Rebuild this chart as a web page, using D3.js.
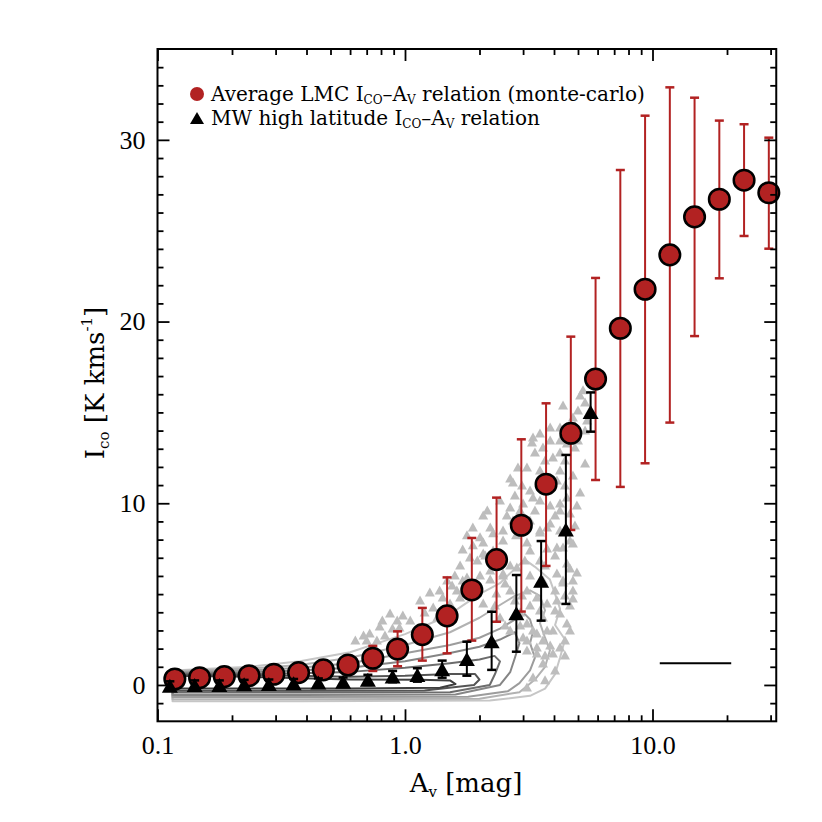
<!doctype html>
<html lang="en">
<head>
<meta charset="utf-8">
<style>
  body { margin: 0; background: #fff; }
  text { font-family: "Liberation Serif", "DejaVu Serif", serif; fill: #000; }
</style>
</head>
<body>
<script src="https://d3js.org/d3.v7.min.js"></script>
<div id="chart"></div>
<script>
// LMC average relation (monte-carlo), bin centres in Av
var lmcAv  = [0.1175, 0.1479, 0.1862, 0.2344, 0.2951, 0.3715, 0.4677, 0.5888, 0.7413, 0.9333,
              1.175, 1.479, 1.862, 2.344, 2.951, 3.715, 4.677, 5.888, 7.413, 9.333,
              11.75, 14.79, 18.62, 23.44, 29.51];
var lmcIco = [0.33, 0.40, 0.46, 0.51, 0.59, 0.68, 0.83, 1.10, 1.47, 1.98,
              2.77, 3.80, 5.23, 6.90, 8.79, 11.05, 13.85, 16.84, 19.63, 21.78,
              23.67, 25.76, 26.73, 27.78, 27.09];
var lmcLo  = [0.10, 0.15, 0.20, 0.25, 0.30, 0.35, 0.45, 0.65, 0.77, 1.03,
              1.34, 1.74, 2.44, 3.48, 4.04, 6.55, 8.53, 11.28, 10.90, 12.20,
              14.44, 19.20, 22.38, 24.71, 24.01];
var lmcHi  = [0.55, 0.65, 0.72, 0.80, 0.90, 1.00, 1.20, 1.55, 2.15, 2.95,
              4.24, 5.92, 8.09, 10.31, 13.52, 15.50, 19.17, 22.40, 28.34, 31.33,
              32.89, 32.32, 31.06, 30.86, 30.12];

// MW high latitude relation
var mwAv  = [0.1122, 0.1413, 0.1778, 0.2239, 0.2818, 0.3548, 0.4467, 0.5623, 0.7079, 0.8913,
             1.122, 1.413, 1.778, 2.239, 2.818, 3.548, 4.467, 5.623];
var mwIco = [-0.04, 0.00, 0.00, 0.04, 0.05, 0.09, 0.13, 0.18, 0.28, 0.46,
             0.55, 0.87, 1.43, 2.40, 3.94, 5.73, 8.56, 15.02];
var mwLo  = [-0.30, -0.25, -0.25, -0.20, -0.20, -0.15, -0.10, -0.05, 0.00, 0.15,
             0.18, 0.40, 0.51, 0.83, 1.83, 3.54, 4.46, 13.94];
var mwHi  = [0.20, 0.25, 0.25, 0.28, 0.30, 0.33, 0.36, 0.41, 0.56, 0.77,
             0.92, 1.34, 2.38, 4.03, 6.05, 7.92, 12.66, 16.10];

// individual LMC points (grey triangles): [Av, Ico]
var cloud = [
  [5.10,15.96],[5.24,16.24],[5.34,15.57],[4.35,15.41],[5.00,15.13],[4.77,14.75],[5.44,14.58],
  [4.86,14.31],[4.23,14.20],[3.86,14.20],[3.51,13.87],[3.29,13.65],[4.23,13.48],[4.51,13.32],
  [3.61,13.10],[3.26,13.37],[3.35,12.82],[4.86,13.10],[4.23,12.82],[3.96,12.55],[3.11,12.00],
  [2.86,12.00],[5.34,12.22],[4.11,11.28],[4.77,11.56],[4.23,11.83],[2.73,11.17],[2.97,11.01],
  [3.20,10.73],[3.75,10.73],[2.66,11.39],[5.10,10.62],[2.78,10.46],[3.29,10.35],[2.42,10.18],
  [4.23,10.02],[3.00,10.02],[2.66,9.80],[2.15,9.63],[2.07,9.36],[2.58,9.36],[4.64,9.47],
  [4.51,10.35],[4.95,9.91],[3.86,8.92],[3.20,9.08],[3.75,8.70],[4.23,8.53],[3.51,8.42],
  [2.21,8.70],[1.88,8.70],[1.78,8.26],[2.01,8.15],[2.27,8.37],[2.49,8.53],[2.81,8.26],
  [2.49,7.98],[2.07,7.87],[3.11,7.87],[1.88,7.71],[1.71,7.48],[2.27,7.43],[2.11,7.15],
  [3.20,7.43],[3.75,7.54],[4.35,7.59],[4.77,7.81],[1.83,7.04],[2.49,6.99],[4.51,6.71],
  [4.64,6.44],[2.83,6.49],[4.95,6.22],[4.11,6.16],[3.20,6.05],[2.21,6.33],[2.01,6.05],
  [2.49,6.05],[1.71,5.78],[2.21,5.83],[2.54,5.61],[3.61,5.78],[4.35,5.67],[4.77,5.78],
  [1.88,5.23],[2.66,5.23],[3.11,5.23],[2.97,4.95],[2.34,5.06],[4.77,5.23],[3.41,4.84],
  [4.77,4.79],[2.07,4.51],[3.75,4.51],[4.11,4.68],[4.64,4.40],[2.42,3.74],[2.66,3.03],
  [3.11,2.48],[4.23,3.96],[4.51,3.41],[3.96,3.03],[4.64,3.03],[3.61,2.48],[3.75,3.03],
  [3.41,1.76],[4.23,2.09],[3.96,1.76],[4.43,1.65],[3.41,2.86],[3.00,2.64],[3.11,3.41],
  [3.61,3.74],[3.61,1.21],[3.29,0.44],[3.11,-0.11],[3.11,1.93],
  [1.26,5.12],[1.48,5.78],[1.55,5.50],[1.62,5.23],[1.42,4.84],[1.52,4.51],[1.67,4.84],
  [1.78,5.94],[0.87,3.96],[0.81,3.58],[0.79,3.25],[0.93,3.58],[0.98,3.85],[1.05,3.58],
  [0.89,3.14],[0.95,3.19],[0.72,2.86],[0.77,2.48],[0.70,2.48],[0.68,2.75],[1.35,3.74],
  [1.30,4.29],[1.15,3.14],
  [3.86,13.48],[3.68,12.38],[4.43,12.38],[3.51,11.83],[3.86,11.28],[4.43,11.01],[3.51,10.18],
  [3.86,9.91],[3.35,9.63],[2.92,9.63],[4.04,9.36],[4.86,8.81],[4.64,7.98],[4.04,7.15],
  [3.51,6.88],[3.05,6.88],[2.66,6.60],[3.68,6.60],[4.04,5.23],[4.43,4.95],[3.51,4.13],
  [4.04,4.13],[2.92,4.02],[3.20,4.40],[2.78,4.68],[2.31,4.40],[3.86,2.20],[3.68,1.65],
  [4.43,2.48],[4.04,0.83],[3.68,0.28],[2.92,3.30],[2.54,3.30],[2.31,6.60],[1.96,6.88],
  [1.67,6.60],[1.59,6.05],[1.38,5.23],[1.15,4.68],[1.20,4.02],[1.10,3.03],[0.83,2.75],
  [0.63,2.48],[5.00,13.48],[5.34,14.03],[5.59,15.13],[2.73,9.08],[3.51,8.53],[4.23,9.63],
  [4.11,7.59],[4.35,5.78],[3.41,2.09],[3.29,3.03],[2.07,7.26],[2.49,6.16]
];

// density contours of the LMC pixels, innermost first: [Av, Ico]
var contour1 = [[0.115,0.50],[0.236,0.45],[0.60,0.30],[1.15,0.28],[1.52,0.25],[1.60,0.05],[1.385,-0.15],[0.60,-0.20],[0.115,-0.20]];
var contour2 = [[0.115,0.55],[0.236,0.55],[0.60,0.45],[1.00,0.50],[1.52,0.60],[1.92,0.60],[2.00,0.30],[1.90,0.00],[1.20,-0.30],[0.376,-0.32],[0.115,-0.32]];
var contour3 = [[0.115,0.60],[0.236,0.62],[0.376,0.65],[0.60,0.72],[1.00,0.95],[1.52,1.20],[2.00,1.40],[2.30,1.60],[2.42,1.30],[2.31,0.60],[2.20,0.00],[1.52,-0.40],[0.376,-0.42],[0.115,-0.42]];
var contour4 = [[0.115,0.65],[0.236,0.70],[0.376,0.80],[0.60,0.95],[1.00,1.30],[1.52,1.76],[2.00,2.10],[2.42,2.50],[2.78,2.90],[2.90,2.30],[2.78,1.50],[2.66,0.70],[2.42,0.00],[1.60,-0.52],[0.376,-0.55],[0.115,-0.55]];
var contour5 = [[0.115,0.70],[0.236,0.80],[0.376,0.95],[0.60,1.20],[1.00,1.75],[1.52,2.20],[2.00,2.60],[2.42,3.10],[2.78,3.60],[3.05,3.90],[3.20,3.60],[3.30,3.00],[3.20,2.30],[3.35,1.50],[3.20,0.80],[2.90,0.10],[2.60,-0.35],[1.80,-0.65],[0.376,-0.66],[0.115,-0.66]];
var contour6 = [[0.115,0.75],[0.236,0.90],[0.376,1.10],[0.60,1.50],[1.00,2.20],[1.52,2.90],[2.00,3.70],[2.42,4.40],[2.78,4.90],[3.20,5.20],[3.51,4.90],[3.68,4.10],[3.51,3.40],[3.68,2.60],[3.85,1.90],[3.68,1.00],[3.35,0.30],[2.90,-0.40],[2.00,-0.76],[0.376,-0.78],[0.115,-0.78]];
var contour7 = [[0.115,0.80],[0.236,1.00],[0.376,1.30],[0.60,1.80],[1.00,2.80],[1.38,3.60],[1.52,3.90],[2.00,5.00],[2.42,5.60],[2.78,6.40],[3.05,6.90],[3.35,6.50],[3.85,5.80],[4.04,5.00],[4.23,4.20],[4.04,3.30],[4.43,2.50],[4.23,1.50],[4.04,0.60],[3.68,-0.20],[3.20,-0.60],[2.20,-0.86],[0.376,-0.90],[0.115,-0.90]];

// beam / scale bar in the lower right
var barAv = [10.7, 20.8];
var barIco = 1.2;

var xTicks = [0.1, 1, 10];
var xTickLabels = ["0.1", "1.0", "10.0"];
var xMinor = [0.2,0.3,0.4,0.5,0.6,0.7,0.8,0.9, 2,3,4,5,6,7,8,9, 20,30];
var yTicks = [0, 10, 20, 30];
var yMinor = [-1,1,2,3,4,5,6,7,8,9,11,12,13,14,15,16,17,18,19,21,22,23,24,25,26,27,28,29,31,32,33,34];

// ---- layout
var width = 822, height = 822;
var plotL = 157.5, plotR = 776.25, plotT = 49, plotB = 721.3;
var serif = '"Liberation Serif", "DejaVu Serif", serif';
var wide = '"DejaVu Serif", serif';

var svg = d3.select("#chart").append("svg")
    .attr("width", width).attr("height", height);

var x = d3.scaleLog().domain([0.1, Math.pow(10, 1.5)]).range([plotL, plotR]);
var y = d3.scaleLinear().domain([-2, 35]).range([plotB, plotT]);

var red = "#b22222";

function tri(w, h) {
  return "M0," + (-h/2) + "L" + (w/2) + "," + (h/2) + "L" + (-w/2) + "," + (h/2) + "Z";
}

// contours
var contours = [contour7, contour6, contour5, contour4, contour3, contour2, contour1];
var greys = ["#c6c6c6", "#b2b2b2", "#9c9c9c", "#858585", "#6c6c6c", "#545454", "#3e3e3e"];
var cline = d3.line().x(function(d){ return x(d[0]); }).y(function(d){ return y(d[1]); })
              .curve(d3.curveLinearClosed);
svg.append("g").selectAll("path")
   .data(contours).enter().append("path")
   .attr("d", cline)
   .attr("fill", "none")
   .attr("stroke", function(d, i){ return greys[i]; })
   .attr("stroke-width", 2)
   .attr("stroke-linejoin", "round");

// grey points
svg.append("g").selectAll("path")
   .data(cloud).enter().append("path")
   .attr("d", tri(10, 9))
   .attr("transform", function(d){ return "translate(" + x(d[0]) + "," + y(d[1]) + ")"; })
   .attr("fill", "#bdbdbd");

var lmc = lmcAv.map(function(v, i){ return {av: v, ico: lmcIco[i], lo: lmcLo[i], hi: lmcHi[i]}; });
var mw = mwAv.map(function(v, i){ return {av: v, ico: mwIco[i], lo: mwLo[i], hi: mwHi[i]}; });

function errorBars(data, colour) {
  var g = svg.append("g").attr("stroke", colour).attr("stroke-width", 2);
  g.selectAll(".v").data(data).enter().append("line")
   .attr("x1", function(d){ return x(d.av); }).attr("x2", function(d){ return x(d.av); })
   .attr("y1", function(d){ return y(d.lo); }).attr("y2", function(d){ return y(d.hi); });
  ["lo", "hi"].forEach(function(k){
    g.selectAll(".c" + k).data(data).enter().append("line")
     .attr("x1", function(d){ return x(d.av) - 4.5; }).attr("x2", function(d){ return x(d.av) + 4.5; })
     .attr("y1", function(d){ return y(d[k]); }).attr("y2", function(d){ return y(d[k]); })
     .attr("stroke-width", 2.5);
  });
}

errorBars(lmc, red);
svg.append("g").selectAll("circle")
   .data(lmc).enter().append("circle")
   .attr("cx", function(d){ return x(d.av); })
   .attr("cy", function(d){ return y(d.ico); })
   .attr("r", 10.3)
   .attr("fill", red)
   .attr("stroke", "#000")
   .attr("stroke-width", 2.5);

errorBars(mw, "#000");
svg.append("g").selectAll("path")
   .data(mw).enter().append("path")
   .attr("d", tri(16, 14))
   .attr("transform", function(d){ return "translate(" + x(d.av) + "," + y(d.ico) + ")"; })
   .attr("fill", "#000");

// scale bar
svg.append("line")
   .attr("x1", x(barAv[0])).attr("x2", x(barAv[1]))
   .attr("y1", y(barIco)).attr("y2", y(barIco))
   .attr("stroke", "#000").attr("stroke-width", 2);

// ---- axes
function styleAxis(g) {
  g.select(".domain").remove();
  g.selectAll(".tick line").attr("stroke", "#000").attr("stroke-width", 1.8);
  g.selectAll(".tick text").style("font-size", "26px").style("font-family", serif);
}

svg.append("g").attr("transform", "translate(0," + plotB + ")")
   .call(d3.axisBottom(x).tickValues(xTicks)
         .tickFormat(function(d, i){ return xTickLabels[i]; })
         .tickSizeInner(-12).tickSizeOuter(0).tickPadding(14))
   .call(styleAxis);
svg.append("g").attr("transform", "translate(0," + plotB + ")")
   .call(d3.axisBottom(x).tickValues(xMinor).tickFormat("").tickSizeInner(-6).tickSizeOuter(0))
   .call(styleAxis);
svg.append("g").attr("transform", "translate(0," + plotT + ")")
   .call(d3.axisTop(x).tickValues(xTicks).tickFormat("").tickSizeInner(-12).tickSizeOuter(0))
   .call(styleAxis);
svg.append("g").attr("transform", "translate(0," + plotT + ")")
   .call(d3.axisTop(x).tickValues(xMinor).tickFormat("").tickSizeInner(-6).tickSizeOuter(0))
   .call(styleAxis);

svg.append("g").attr("transform", "translate(" + plotL + ",0)")
   .call(d3.axisLeft(y).tickValues(yTicks).tickFormat(d3.format("d"))
         .tickSizeInner(-12).tickSizeOuter(0).tickPadding(12))
   .call(styleAxis);
svg.append("g").attr("transform", "translate(" + plotL + ",0)")
   .call(d3.axisLeft(y).tickValues(yMinor).tickFormat("").tickSizeInner(-6).tickSizeOuter(0))
   .call(styleAxis);
svg.append("g").attr("transform", "translate(" + plotR + ",0)")
   .call(d3.axisRight(y).tickValues(yTicks).tickFormat("").tickSizeInner(-12).tickSizeOuter(0))
   .call(styleAxis);
svg.append("g").attr("transform", "translate(" + plotR + ",0)")
   .call(d3.axisRight(y).tickValues(yMinor).tickFormat("").tickSizeInner(-6).tickSizeOuter(0))
   .call(styleAxis);

svg.append("rect")
   .attr("x", plotL).attr("y", plotT)
   .attr("width", plotR - plotL).attr("height", plotB - plotT)
   .attr("fill", "none").attr("stroke", "#000").attr("stroke-width", 2);

// ---- axis titles
var xt = svg.append("text")
   .attr("x", 466).attr("y", 792)
   .attr("text-anchor", "middle")
   .style("font-family", wide)
   .style("font-size", "26px");
xt.append("tspan").text("A");
xt.append("tspan").attr("dy", 5).style("font-size", "15px").text("v");
xt.append("tspan").attr("dy", -5).text(" [mag]");

var yt = svg.append("text")
   .attr("transform", "translate(104,383) rotate(-90)")
   .attr("text-anchor", "middle")
   .style("font-family", wide)
   .style("font-size", "26px");
yt.append("tspan").text("I");
yt.append("tspan").attr("dy", 5).style("font-size", "15px").text("co");
yt.append("tspan").attr("dy", -5).text(" [K kms");
yt.append("tspan").attr("dy", -12).style("font-size", "15px").text("-1");
yt.append("tspan").attr("dy", 12).text("]");

// ---- legend
svg.append("circle").attr("cx", 197).attr("cy", 94).attr("r", 7).attr("fill", red);
svg.append("path").attr("d", tri(14, 12)).attr("transform", "translate(197,118)").attr("fill", "#000");

function legendText(yPos, before, after) {
  var t = svg.append("text").attr("x", 211).attr("y", yPos)
     .style("font-family", wide).style("font-size", "20px");
  t.append("tspan").text(before + "I");
  t.append("tspan").attr("dy", 3).style("font-size", "12px").text("CO");
  t.append("tspan").attr("dy", -3).text("\u2013A");
  t.append("tspan").attr("dy", 3).style("font-size", "12px").text("V");
  t.append("tspan").attr("dy", -3).text(after);
}
legendText(101, "Average LMC ", " relation (monte-carlo)");
legendText(125, "MW high latitude ", " relation");
</script>
</body>
</html>
